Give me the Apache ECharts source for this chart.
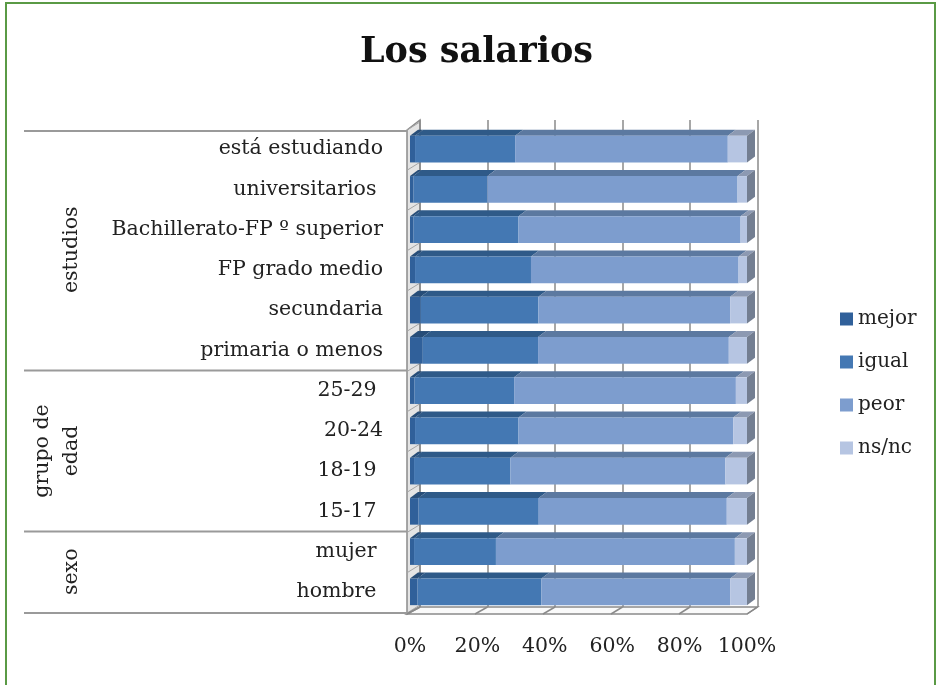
<!DOCTYPE html>
<html>
<head>
<meta charset="utf-8">
<script src="https://cdn.jsdelivr.net/npm/echarts@6/dist/echarts.min.js"></script>
<style>
  html, body { margin: 0; background: #fff; }
  #chart { width: 937px; height: 685px; }
</style>
</head>
<body>
<div id="chart"></div>
<script>
// categorías de arriba a abajo (los espacios finales son del original)
const categories = ['está estudiando', 'universitarios ', 'Bachillerato-FP º superior', 'FP grado medio',
  'secundaria', 'primaria o menos', '25-29 ', ' 20-24', '18-19 ', '15-17 ', 'mujer ', 'hombre ']
const groups = [
  { name: 'estudios', from: 0, to: 5 },
  { name: 'grupo de\nedad', from: 6, to: 9 },
  { name: 'sexo', from: 10, to: 11 }
]
const seriesNames = ['mejor', 'igual', 'peor', 'ns/nc']
const mejor = [1.5, 1.0, 1.0, 1.5, 3.2, 3.8, 1.3, 1.5, 1.2, 2.5, 1.2, 2.2]
const igual = [29.7, 22.0, 31.2, 34.4, 34.9, 34.2, 29.6, 30.7, 28.6, 35.7, 24.3, 36.8]
const peor = [63.1, 74.2, 65.9, 61.6, 56.9, 56.6, 65.8, 63.7, 63.8, 55.8, 70.9, 56.0]
const nsnc = [5.7, 2.8, 1.9, 2.5, 5.0, 5.4, 3.3, 4.1, 6.4, 6.0, 3.6, 5.0]
const xTicks = [0, 20, 40, 60, 80, 100]

const values = [mejor, igual, peor, nsnc]
const frontColors = ['#30609a', '#4478b3', '#7d9dce', '#b6c5e2']
const topColors = ['#274d78', '#2f5a88', '#5c79a0', '#8c99b2']
const sideColor = '#737e91'
const FONT = 'DejaVu Serif'
const DX = 8, DY = -6  // profundidad de las barras

// tramos acumulados [categoría, inicio, fin]
const stacks = values.map((arr, s) => arr.map((v, i) => {
  let start = 0
  for (let k = 0; k < s; k++) start += values[k][i]
  return [i, start, start + v]
}))

function makeRender(s) {
  const last = s === values.length - 1
  return (params, api) => {
    const cat = api.value(0)
    const p0 = api.coord([api.value(1), cat])
    const p1 = api.coord([api.value(2), cat])
    const h = api.size([0, 1])[1] * 0.66
    const yT = p0[1] - h / 2, yB = p0[1] + h / 2
    const children = [
      { type: 'polygon', shape: { points: [[p0[0], yT], [p1[0], yT], [p1[0] + DX, yT + DY], [p0[0] + DX, yT + DY]] },
        style: { fill: topColors[s] } },
      { type: 'rect', shape: { x: p0[0], y: yT, width: p1[0] - p0[0], height: h }, style: { fill: frontColors[s] } }
    ]
    if (last) {
      children.push({ type: 'polygon', shape: { points: [[p1[0], yT], [p1[0] + DX, yT + DY], [p1[0] + DX, yB + DY], [p1[0], yB]] },
        style: { fill: sideColor } })
    }
    return { type: 'group', children }
  }
}

const option = {
  backgroundColor: '#fff',
  animation: false,
  title: {
    text: 'Los salarios',
    left: 355,
    top: 30,
    textStyle: { fontFamily: FONT, fontSize: 35, fontWeight: 'bold', color: '#111' }
  },
  legend: {
    orient: 'vertical',
    left: 835,
    top: 304,
    itemWidth: 13,
    itemHeight: 13,
    itemGap: 23,
    icon: 'rect',
    data: seriesNames,
    textStyle: { fontFamily: FONT, fontSize: 20, lineHeight: 20, color: '#222' }
  },
  grid: [
    { left: 410, right: 190, top: 129, bottom: 73 },   // plano frontal de las barras
    { left: 420, right: 179.5, top: 120, bottom: 78 }  // pared del fondo
  ],
  xAxis: [
    {
      gridIndex: 0, type: 'value', min: 0, max: 100, interval: 20,
      axisLine: { show: false }, axisTick: { show: false }, splitLine: { show: false },
      axisLabel: { margin: 24, formatter: '{value}%', fontFamily: FONT, fontSize: 20.5, color: '#222' }
    },
    {
      gridIndex: 1, type: 'value', min: 0, max: 100, interval: 20,
      axisLine: { show: false }, axisTick: { show: false }, axisLabel: { show: false },
      splitLine: { show: true, showMinLine: true, showMaxLine: true, lineStyle: { color: '#8a8a8a', width: 1.5 } }
    }
  ],
  yAxis: [
    {
      gridIndex: 0, type: 'category', inverse: true, data: categories,
      axisLine: { show: false }, axisTick: { show: false },
      axisLabel: { interval: 0, margin: 27, padding: [10, 0, 0, 0], fontFamily: FONT, fontSize: 20.5, color: '#222' }
    },
    { gridIndex: 1, type: 'value', min: 0, max: 1, show: false }
  ],
  series: values.map((arr, s) => ({
    name: seriesNames[s],
    type: 'custom',
    xAxisIndex: 0,
    yAxisIndex: 0,
    itemStyle: { color: frontColors[s] },
    encode: { x: [1, 2], y: 0 },
    renderItem: makeRender(s),
    data: stacks[s]
  }))
}

const chart = echarts.init(document.getElementById('chart'))
chart.setOption(option)

// paredes, suelo y etiquetas de grupo a partir de los ejes
const pf = (x, c) => chart.convertToPixel({ gridIndex: 0 }, [x, c])
const pb = (x, y) => chart.convertToPixel({ gridIndex: 1 }, [x, y])
const pitch = pf(0, 1)[1] - pf(0, 0)[1]
const gTop = pf(0, 0)[1] - pitch / 2
const gBot = pf(0, categories.length - 1)[1] + pitch / 2
const wallX = pf(0, 0)[0] - 3
const wTop = gTop + 1, wBot = gBot + 2
const bx0 = pb(0, 0)[0], bTop = pb(0, 1)[1], bBot = pb(0, 0)[1]
const fx = v => wallX + (pf(100, 0)[0] - wallX) * v / 100

const graphics = []
graphics.push({ type: 'rect', shape: { x: 6, y: 3, width: 929, height: 700 },
  style: { fill: 'none', stroke: '#5a9a45', lineWidth: 2 }, silent: true })
// pared izquierda
graphics.push({ type: 'polygon', shape: { points: [[wallX, wTop], [bx0, bTop], [bx0, bBot], [wallX, wBot]] },
  style: { fill: '#e4e4e4', stroke: '#8a8a8a', lineWidth: 1.5 }, z: -1 })
for (let i = 0; i <= categories.length; i++) {
  const y = gTop + pitch * i
  graphics.push({ type: 'line', shape: { x1: wallX, y1: y + 1, x2: bx0, y2: y - 7 },
    style: { stroke: '#a5a5a5', lineWidth: 1 }, z: -1 })
}
// suelo
graphics.push({ type: 'polygon', shape: { points: [[wallX, wBot], [fx(100), wBot], [pb(100, 0)[0], bBot], [bx0, bBot]] },
  style: { fill: '#fafafa', stroke: '#8a8a8a', lineWidth: 1.5 }, z: -1 })
xTicks.forEach(v => {
  graphics.push({ type: 'line', shape: { x1: fx(v), y1: wBot, x2: pb(v, 0)[0], y2: bBot },
    style: { stroke: '#8a8a8a', lineWidth: 1.5 }, z: -1 })
})
// líneas y rótulos de grupo
const bounds = [gTop + 2, gTop + pitch * 6, gTop + pitch * 10, gBot + 1]
bounds.forEach(y => {
  graphics.push({ type: 'line', shape: { x1: 24, y1: y, x2: wallX, y2: y },
    style: { stroke: '#9a9a9a', lineWidth: 2 } })
})
groups.forEach(g => {
  const yc = (pf(0, g.from)[1] + pf(0, g.to)[1]) / 2
  const lines = g.name.split('\n').length
  graphics.push({
    type: 'text', x: 72 - (lines - 1) * 14.5, y: yc, rotation: Math.PI / 2,
    style: { text: g.name, fontFamily: FONT, fontSize: 20.5, lineHeight: 29, fill: '#222',
      align: 'center', verticalAlign: 'middle' }
  })
})
chart.setOption({ graphic: graphics })
</script>
</body>
</html>
